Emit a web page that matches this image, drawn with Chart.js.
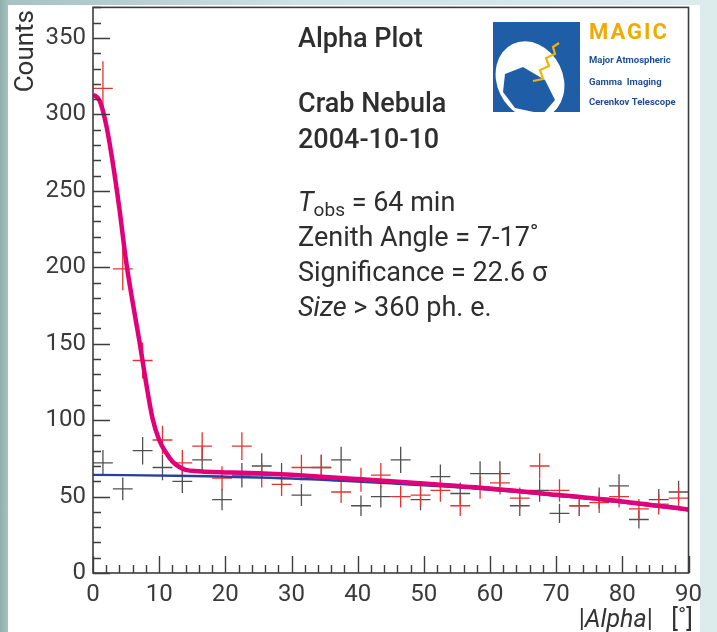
<!DOCTYPE html>
<html>
<head>
<meta charset="utf-8">
<script src="https://cdn.jsdelivr.net/npm/chart.js@4.4.0/dist/chart.umd.min.js"></script>
<style>
  html, body { margin: 0; padding: 0; }
  body {
    width: 717px; height: 632px; position: relative; overflow: hidden;
    background: linear-gradient(90deg, #8fb0ad 0px, #a6c2c0 8px, #cfe1e1 300px, #dcebec 717px);
  }
  #panel { position: absolute; left: 8px; top: 5px; width: 692px; height: 627px; background: #fff; }
  #alphaChart { position: absolute; left: 8px; top: -14px; }
</style>
</head>
<body>
<div id="panel"></div>
<canvas id="alphaChart" width="702" height="646"></canvas>
<script>
// centres of the |Alpha| bins (3 degrees wide)
const alphaCentres = [1.5, 4.5, 7.5, 10.5, 13.5, 16.5, 19.5, 22.5, 25.5, 28.5,
                      31.5, 34.5, 37.5, 40.5, 43.5, 46.5, 49.5, 52.5, 55.5, 58.5,
                      61.5, 64.5, 67.5, 70.5, 73.5, 76.5, 79.5, 82.5, 85.5, 88.5];
const binHalfWidth = 1.5;

// ON source counts (red crosses)
const onCounts = [317, 199, 139, 87, 72, 83, 62, 83, 64, 58,
                  69, 69, 53, 61, 64, 50, 51, 54, 44, 56,
                  59, 49, 70, 54, 44, 46, 50, 42, 45, 49];

// OFF source counts (black crosses)
const offCounts = [72, 55, 80, 69, 60, 74, 48, 64, 70, 64,
                   51, 69, 74, 44, 50, 74, 48, 63, 52, 65,
                   65, 44, 54, 39, 44, 49, 57, 35, 48, 53];

// fit of the ON data (signal + background)
const fitOnX = [0, 1, 2, 3, 4, 5, 6, 7, 8, 9, 10, 11, 12, 13, 14, 16, 18, 20, 25, 30, 40, 50, 60, 70, 80, 90];
const fitOnY = [313, 309, 293, 268, 238, 204, 177, 152, 125, 101, 87, 79, 73, 69.5, 67.5, 66.5, 66, 65.8, 65.2, 64.2, 61.5, 58.5, 55.3, 51.2, 46.8, 41.5];

// fit of the OFF data (background only)
const fitOffX = [0, 15, 30, 45, 60, 75, 90];
const fitOffY = [64.2, 63.5, 61.8, 58.6, 54.5, 48.5, 41];

// tick labels
const yTicks = [0, 50, 100, 150, 200, 250, 300, 350];
const xTicks = [0, 10, 20, 30, 40, 50, 60, 70, 80, 90];

const OX = 8, OY = -14;   // canvas offset in the page
const FONT = 'Roboto, "DejaVu Sans", sans-serif';

function toPoints(xs, ys) {
    return xs.map((v, i) => ({ x: v, y: ys[i] }));
}

function drawCrosses(ctx, x, y, counts, colour) {
    ctx.strokeStyle = colour;
    ctx.lineWidth = 1.3;
    counts.forEach((n, i) => {
        const a = alphaCentres[i];
        const err = Math.sqrt(n);
        ctx.beginPath();
        ctx.moveTo(x.getPixelForValue(a - binHalfWidth), y.getPixelForValue(n));
        ctx.lineTo(x.getPixelForValue(a + binHalfWidth), y.getPixelForValue(n));
        ctx.moveTo(x.getPixelForValue(a), y.getPixelForValue(n - err));
        ctx.lineTo(x.getPixelForValue(a), y.getPixelForValue(n + err));
        ctx.stroke();
    });
}

// crosses with error bars, under the fit curves
const crossPlugin = {
    id: 'crosses',
    beforeDatasetsDraw(chart) {
        const { ctx, scales: { x, y } } = chart;
        ctx.save();
        ctx.beginPath();
        ctx.rect(x.left, y.top, x.right - x.left, y.bottom - y.top);
        ctx.clip();
        drawCrosses(ctx, x, y, offCounts, '#505050');
        drawCrosses(ctx, x, y, onCounts, '#e3342f');
        ctx.restore();
    }
};

// ROOT style frame with ticks pointing inwards
const framePlugin = {
    id: 'frame',
    afterDatasetsDraw(chart) {
        const { ctx, scales: { x, y } } = chart;
        ctx.save();
        ctx.strokeStyle = '#3c3c3c';
        ctx.lineWidth = 1.6;
        ctx.strokeRect(x.left, y.top, x.right - x.left, y.bottom - y.top);
        ctx.lineWidth = 1.4;
        ctx.beginPath();
        for (let v = 0; v <= 370; v += 10) {
            const py = Math.round(y.getPixelForValue(v)) + 0.5;
            const len = v % 50 === 0 ? 17 : 8;
            ctx.moveTo(x.left, py);
            ctx.lineTo(x.left + len, py);
        }
        for (let v = 0; v <= 90; v += 2) {
            const px = Math.round(x.getPixelForValue(v)) + 0.5;
            const len = v % 10 === 0 ? 17 : 8;
            ctx.moveTo(px, y.bottom);
            ctx.lineTo(px, y.bottom - len);
        }
        ctx.stroke();
        ctx.restore();
    }
};

function drawRuns(ctx, x, y, runs) {
    runs.forEach(r => {
        ctx.font = r.font;
        ctx.fillText(r.text, x, y + (r.dy || 0));
        x += ctx.measureText(r.text).width;
    });
}

function runsWidth(ctx, runs) {
    let w = 0;
    runs.forEach(r => { ctx.font = r.font; w += ctx.measureText(r.text).width; });
    return w;
}

function drawLogo(ctx) {
    const L = 493 - OX, T = 22 - OY, W = 87, H = 90;
    ctx.save();
    ctx.fillStyle = '#1f5da6';
    ctx.fillRect(L, T, W, H);
    ctx.beginPath();
    ctx.rect(L, T, W, H);
    ctx.clip();
    // white dish
    ctx.fillStyle = '#ffffff';
    ctx.beginPath();
    ctx.ellipse(L + 37, T + 58, 33, 40, -0.45, 0, Math.PI * 2);
    ctx.fill();
    // blue mirror inside
    ctx.fillStyle = '#1f5da6';
    ctx.beginPath();
    ctx.moveTo(L + 12, T + 52);
    ctx.lineTo(L + 30, T + 45);
    ctx.lineTo(L + 52, T + 58);
    ctx.lineTo(L + 62, T + 78);
    ctx.lineTo(L + 50, T + 92);
    ctx.lineTo(L + 22, T + 86);
    ctx.lineTo(L + 10, T + 70);
    ctx.closePath();
    ctx.fill();
    // yellow signal
    ctx.strokeStyle = '#f2b400';
    ctx.lineWidth = 2.2;
    ctx.beginPath();
    ctx.moveTo(L + 40, T + 59);
    ctx.lineTo(L + 50, T + 57);
    ctx.lineTo(L + 47, T + 48);
    ctx.lineTo(L + 56, T + 44);
    ctx.lineTo(L + 53, T + 36);
    ctx.lineTo(L + 62, T + 32);
    ctx.lineTo(L + 60, T + 25);
    ctx.lineTo(L + 66, T + 21);
    ctx.stroke();
    ctx.restore();

    ctx.save();
    ctx.textAlign = 'left';
    ctx.textBaseline = 'alphabetic';
    ctx.fillStyle = '#f0ab00';
    ctx.font = 'bold 22px ' + FONT;
    ctx.letterSpacing = '2px';
    ctx.fillText('MAGIC', 589 - OX, 39 - OY);
    ctx.letterSpacing = '0px';
    ctx.fillStyle = '#1d4f95';
    ctx.font = 'bold 9.5px ' + FONT;
    ctx.fillText('Major Atmospheric', 589 - OX, 63 - OY);
    ctx.fillText('Gamma  Imaging', 589 - OX, 85 - OY);
    ctx.fillText('Cerenkov Telescope', 589 - OX, 105 - OY);
    ctx.restore();
}

// texts: titles, info block, axis titles and the logo
const textPlugin = {
    id: 'texts',
    afterDraw(chart) {
        const ctx = chart.ctx;
        ctx.save();
        ctx.fillStyle = '#2e2e2e';
        ctx.textAlign = 'left';
        ctx.textBaseline = 'alphabetic';
        const tx = 298 - OX;
        const bold = '500 27px ' + FONT;
        const norm = '27px ' + FONT;
        const ital = 'italic 27px ' + FONT;
        drawRuns(ctx, tx, 47 - OY, [{ text: 'Alpha Plot', font: bold }]);
        drawRuns(ctx, tx, 112 - OY, [{ text: 'Crab Nebula', font: bold }]);
        drawRuns(ctx, tx, 148 - OY, [{ text: '2004-10-10', font: bold }]);
        drawRuns(ctx, tx, 211 - OY, [
            { text: 'T', font: ital },
            { text: 'obs', font: '19px ' + FONT, dy: 5 },
            { text: ' = 64 min', font: norm }
        ]);
        drawRuns(ctx, tx, 246 - OY, [{ text: 'Zenith Angle = 7-17\u02DA', font: norm }]);
        drawRuns(ctx, tx, 281 - OY, [{ text: 'Significance = 22.6 \u03C3', font: norm }]);
        drawRuns(ctx, tx, 316 - OY, [
            { text: 'Size', font: ital },
            { text: ' > 360 ph. e.', font: norm }
        ]);

        // y title
        ctx.save();
        ctx.translate(33 - OX, 10 - OY);
        ctx.rotate(-Math.PI / 2);
        ctx.textAlign = 'right';
        ctx.textBaseline = 'alphabetic';
        ctx.font = '26px ' + FONT;
        ctx.fillStyle = '#333';
        ctx.fillText('Counts', 0, 0);
        ctx.restore();

        // x title
        const xRuns = [
            { text: '|', font: '25px ' + FONT },
            { text: 'Alpha', font: 'italic 25px ' + FONT },
            { text: '|   [\u02DA]', font: '25px ' + FONT }
        ];
        ctx.fillStyle = '#333';
        drawRuns(ctx, 693 - OX - runsWidth(ctx, xRuns), 627 - OY, xRuns);

        drawLogo(ctx);
        ctx.restore();
    }
};

const ctx = document.getElementById('alphaChart').getContext('2d');
const alphaChart = new Chart(ctx, {
    type: 'scatter',
    data: {
        datasets: [{
            label: 'Fit ON',
            data: toPoints(fitOnX, fitOnY),
            showLine: true,
            borderColor: '#e2007a',
            borderWidth: 4.5,
            pointRadius: 0,
            cubicInterpolationMode: 'monotone',
            order: 0
        }, {
            label: 'Fit OFF',
            data: toPoints(fitOffX, fitOffY),
            showLine: true,
            borderColor: '#2a3f9d',
            borderWidth: 2.4,
            pointRadius: 0,
            cubicInterpolationMode: 'monotone',
            order: 1
        }]
    },
    options: {
        responsive: false,
        animation: false,
        devicePixelRatio: 1,
        layout: { padding: { left: 0, top: 20, right: 20, bottom: 0 } },
        plugins: { legend: { display: false }, tooltip: { enabled: false } },
        scales: {
            x: {
                type: 'linear',
                min: 0,
                max: 90,
                grid: { display: false, drawTicks: false, tickLength: 0 },
                border: { display: false },
                afterBuildTicks: scale => { scale.ticks = xTicks.map(v => ({ value: v })); },
                afterFit: scale => { scale.height = 59; },
                ticks: {
                    autoSkip: false,
                    maxRotation: 0,
                    padding: 8,
                    color: '#3a3a3a',
                    font: { family: FONT, size: 24 }
                }
            },
            y: {
                type: 'linear',
                min: 0,
                max: 370,
                grid: { display: false, drawTicks: false, tickLength: 0 },
                border: { display: false },
                afterBuildTicks: scale => { scale.ticks = yTicks.map(v => ({ value: v })); },
                afterFit: scale => { scale.width = 85; },
                ticks: {
                    autoSkip: false,
                    padding: 7,
                    color: '#3a3a3a',
                    font: { family: FONT, size: 24 }
                }
            }
        }
    },
    plugins: [crossPlugin, framePlugin, textPlugin]
});
</script>
</body>
</html>
